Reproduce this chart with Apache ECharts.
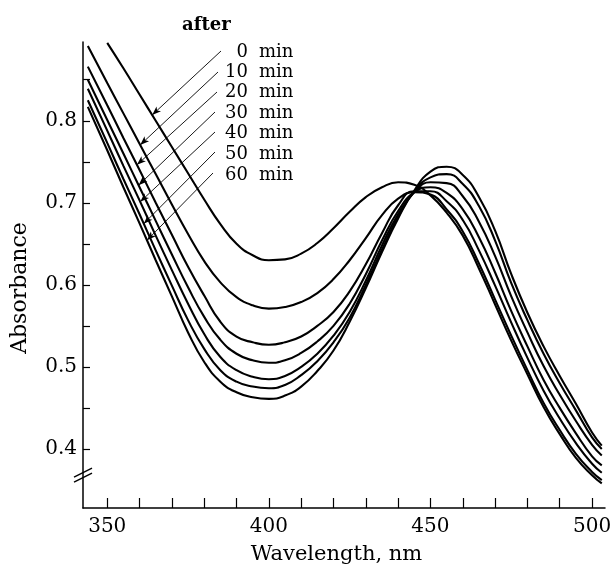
<!DOCTYPE html>
<html>
<head>
<meta charset="utf-8">
<script src="https://cdn.jsdelivr.net/npm/echarts@6/dist/echarts.min.js"></script>
<style>
html, body { margin: 0; padding: 0; background: #fff; }
#main { width: 611px; height: 572px; }
</style>
</head>
<body>
<div id="main"></div>
<script>
// wavelength grid (nm) shared by all spectra
var wavelengths = [344, 350, 355, 360, 365, 370, 375, 380, 385, 390, 395, 400, 405, 410, 415, 420,
  425, 430, 435, 440, 445, 450, 455, 460, 465, 470, 475, 480, 485, 490, 495, 500, 503];

// absorbance, one array per time
var abs0 = [null, 0.895, 0.864, 0.832, 0.800, 0.768, 0.736, 0.704, 0.674, 0.650, 0.636, 0.630, 0.631, 0.638, 0.651, 0.669,
  0.689, 0.707, 0.719, 0.725, 0.722, 0.709, 0.688, 0.660, 0.620, 0.576, 0.532, 0.491, 0.451, 0.418, 0.389, 0.368, 0.358];
var abs10 = [0.891, 0.846, 0.809, 0.772, 0.735, 0.698, 0.662, 0.629, 0.603, 0.585, 0.575, 0.571, 0.573, 0.579, 0.590, 0.607,
  0.630, 0.657, 0.685, 0.705, 0.713, 0.710, 0.692, 0.665, 0.626, 0.582, 0.538, 0.496, 0.456, 0.423, 0.394, 0.372, 0.362];
var abs20 = [0.866, 0.819, 0.779, 0.740, 0.700, 0.661, 0.622, 0.587, 0.555, 0.537, 0.530, 0.527, 0.530, 0.537, 0.550, 0.567,
  0.592, 0.625, 0.663, 0.697, 0.714, 0.714, 0.702, 0.679, 0.642, 0.599, 0.554, 0.511, 0.471, 0.437, 0.407, 0.382, 0.371];
var abs30 = [0.850, 0.801, 0.760, 0.719, 0.678, 0.637, 0.597, 0.561, 0.533, 0.516, 0.508, 0.505, 0.508, 0.517, 0.531, 0.550,
  0.577, 0.613, 0.654, 0.690, 0.713, 0.719, 0.712, 0.692, 0.658, 0.615, 0.568, 0.525, 0.484, 0.450, 0.419, 0.391, 0.380];
var abs40 = [0.839, 0.788, 0.745, 0.703, 0.660, 0.618, 0.577, 0.540, 0.512, 0.496, 0.488, 0.485, 0.489, 0.500, 0.516, 0.538,
  0.567, 0.605, 0.648, 0.686, 0.713, 0.725, 0.724, 0.708, 0.677, 0.635, 0.586, 0.542, 0.501, 0.466, 0.434, 0.405, 0.392];
var abs50 = [0.825, 0.773, 0.729, 0.686, 0.642, 0.599, 0.557, 0.522, 0.496, 0.482, 0.476, 0.474, 0.478, 0.490, 0.507, 0.530,
  0.560, 0.600, 0.643, 0.683, 0.714, 0.731, 0.735, 0.723, 0.696, 0.654, 0.602, 0.557, 0.516, 0.480, 0.447, 0.414, 0.400];
var abs60 = [0.817, 0.764, 0.719, 0.675, 0.630, 0.586, 0.542, 0.506, 0.482, 0.469, 0.463, 0.461, 0.465, 0.476, 0.495, 0.520,
  0.555, 0.596, 0.640, 0.681, 0.715, 0.738, 0.744, 0.734, 0.707, 0.666, 0.613, 0.566, 0.525, 0.489, 0.455, 0.420, 0.404];

var times = ['0', '10', '20', '30', '40', '50', '60'];
var spectra = [abs0, abs10, abs20, abs30, abs40, abs50, abs60];
// wavelength where each leader arrow touches its curve
var arrowAt = [363.9, 360.2, 359.2, 359.7, 360.2, 361.3, 362.3];

var xTicks = [350, 360, 370, 380, 390, 400, 410, 420, 430, 440, 450, 460, 470, 480, 490, 500];
var xLabels = [350, 400, 450, 500];
var yTicks = [0.4, 0.45, 0.5, 0.55, 0.6, 0.65, 0.7, 0.75, 0.8, 0.85];
var yLabels = [0.4, 0.5, 0.6, 0.7, 0.8];

var FONT = 'DejaVu Serif';

function interp(vals, w) {
  for (var i = 0; i < wavelengths.length - 1; i++) {
    if (w >= wavelengths[i] && w <= wavelengths[i + 1] && vals[i] != null && vals[i + 1] != null) {
      var t = (w - wavelengths[i]) / (wavelengths[i + 1] - wavelengths[i]);
      return vals[i] + t * (vals[i + 1] - vals[i]);
    }
  }
  return null;
}

// label block layout (pixels)
var labelY = [52, 72, 92, 113, 133, 154, 175];
var leaderStart = [[221, 51], [218, 72], [217, 92], [215, 112], [215, 132], [215, 152], [213, 173]];

var myChart = echarts.init(document.getElementById('main'));

var series = spectra.map(function (vals, k) {
  var pts = [];
  wavelengths.forEach(function (w, i) {
    if (vals[i] != null) pts.push([w, vals[i]]);
  });
  return {
    name: times[k] + ' min',
    type: 'line',
    data: pts,
    showSymbol: false,
    smooth: true,
    lineStyle: { color: '#000', width: 2.1 },
    silent: true,
    markLine: {
      silent: true,
      animation: false,
      symbol: ['none', 'arrow'],
      symbolSize: [5, 9],
      label: { show: false },
      lineStyle: { color: '#000', width: 0.9, type: 'solid' },
      data: [[
        { x: leaderStart[k][0], y: leaderStart[k][1] },
        { coord: [arrowAt[k], interp(vals, arrowAt[k])] }
      ]]
    }
  };
});

var graphics = [{
  type: 'text', left: 182, top: 16,
  style: { text: 'after', font: 'bold 18px "' + FONT + '"', fill: '#000' }
}];
times.forEach(function (t, k) {
  graphics.push({
    type: 'text', x: 248, y: labelY[k],
    style: { text: t, font: '18px "' + FONT + '"', fill: '#000', align: 'right', verticalAlign: 'middle' }
  });
  graphics.push({
    type: 'text', x: 259, y: labelY[k],
    style: { text: 'min', font: '18px "' + FONT + '"', fill: '#000', align: 'left', verticalAlign: 'middle' }
  });
});

var option = {
  backgroundColor: '#fff',
  animation: false,
  textStyle: { fontFamily: FONT, color: '#000' },
  grid: { left: 83, right: 6, top: 42, bottom: 64, containLabel: false, outerBoundsMode: 'none' },
  xAxis: {
    type: 'value',
    min: 342.5,
    max: 504,
    name: 'Wavelength, nm',
    nameLocation: 'middle',
    nameGap: 36,
    nameTextStyle: { fontFamily: FONT, fontSize: 21, color: '#000', padding: [0, 15, 0, 0] },
    axisLine: { lineStyle: { color: '#000', width: 1.5 } },
    axisTick: { inside: true, length: 10, lineStyle: { color: '#000', width: 1.2 }, customValues: xTicks },
    axisLabel: { fontFamily: FONT, fontSize: 20, color: '#000', margin: 9, customValues: xLabels },
    splitLine: { show: false }
  },
  yAxis: {
    type: 'value',
    min: 0.328,
    max: 0.896,
    name: 'Absorbance',
    nameLocation: 'middle',
    nameGap: 52,
    nameTextStyle: { fontFamily: FONT, fontSize: 22, color: '#000', padding: [0, 26, 0, 0] },
    axisLine: { show: true, lineStyle: { color: '#000', width: 1.5 } },
    axisTick: { show: true, inside: true, length: 7, lineStyle: { color: '#000', width: 1.2 }, customValues: yTicks },
    axisLabel: {
      fontFamily: FONT, fontSize: 20, color: '#000', margin: 6, customValues: yLabels,
      formatter: function (v) { return v.toFixed(1); }
    },
    splitLine: { show: false }
  },
  series: series,
  graphic: graphics
};

myChart.setOption(option);

// axis break mark "//" on the y axis
var bp = myChart.convertToPixel({ gridIndex: 0 }, [342.5, 0.368]);
myChart.setOption({
  graphic: graphics.concat([
    { type: 'line', shape: { x1: bp[0] - 9, y1: bp[1] + 7, x2: bp[0] + 9, y2: bp[1] - 2 }, style: { stroke: '#000', lineWidth: 1.3 } },
    { type: 'line', shape: { x1: bp[0] - 9, y1: bp[1] + 2, x2: bp[0] + 9, y2: bp[1] - 7 }, style: { stroke: '#000', lineWidth: 1.3 } }
  ])
});
</script>
</body>
</html>
